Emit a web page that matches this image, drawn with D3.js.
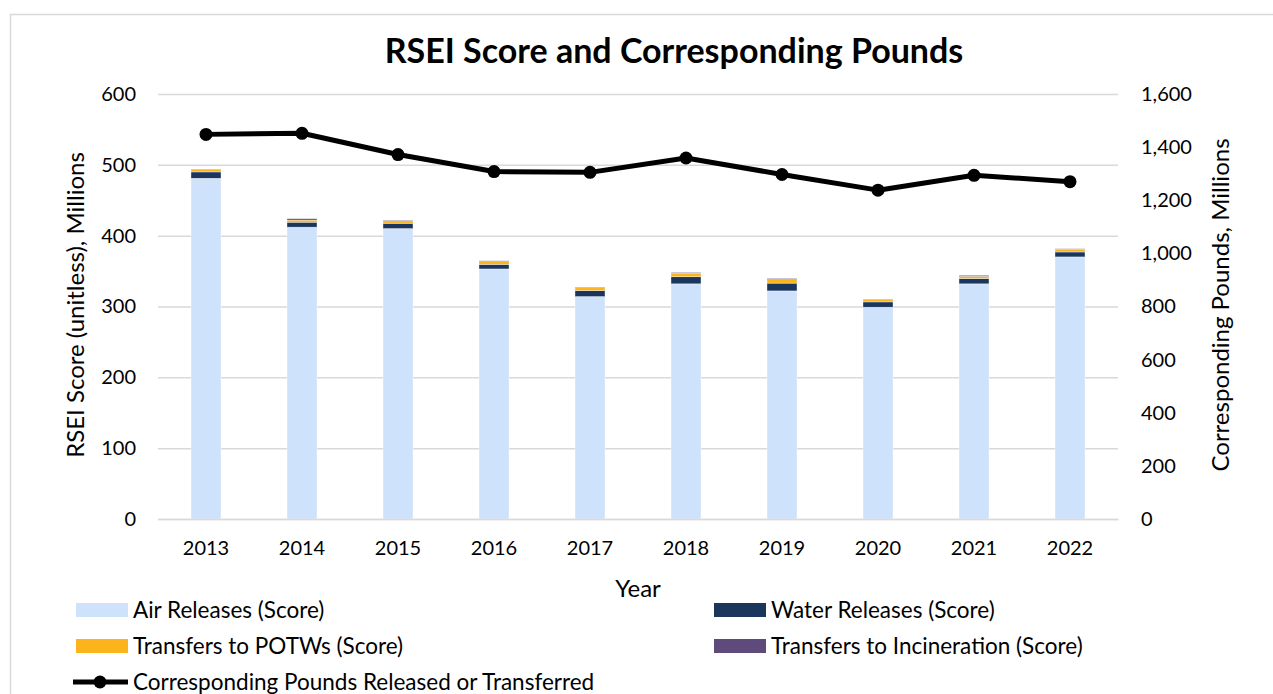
<!DOCTYPE html>
<html>
<head>
<meta charset="utf-8">
<script src="https://cdn.jsdelivr.net/npm/d3@7"></script>
<style>
body{margin:0;background:#fff;}
text{font-family:Lato,"Open Sans",sans-serif;fill:#000;}
</style>
</head>
<body>
<div id="chart"></div>
<script>
var years = ["2013","2014","2015","2016","2017","2018","2019","2020","2021","2022"];
var air_score = [481, 412, 410, 353, 314, 332, 322, 299, 332, 370];
var water_score = [9, 7, 7.5, 6.5, 8.5, 10, 11, 7.5, 7.5, 7];
var potw_score = [3.5, 3, 3.5, 4, 4, 5, 5, 3.5, 3, 4];
var incin_score = [0.5, 2, 1, 1, 1, 1, 1.5, 0.5, 1.5, 0.5];
var pounds = [1448, 1452, 1372, 1308, 1305, 1359, 1297, 1238, 1294, 1270];
var left_ticks = [0,100,200,300,400,500,600];
var right_ticks = [0,200,400,600,800,1000,1200,1400,1600];

var series_names = ["Air Releases (Score)","Water Releases (Score)","Transfers to POTWs (Score)","Transfers to Incineration (Score)"];
var series_colors = ["#cfe2fb","#1b365d","#fbb41c","#5f4b7b"];

var width = 1273, height = 694;
var plot_left = 158, plot_right = 1118, plot_top = 94, plot_bottom = 519;

var svg = d3.select("#chart").append("svg")
			.attr("width",width)
			.attr("height",height);

// chart border
svg.append("rect")
   .attr("x",10.5).attr("y",14.5)
   .attr("width",1300).attr("height",720)
   .attr("fill","#fff")
   .attr("stroke","#d9d9d9")
   .attr("stroke-width",1.5);

var table = years.map(function(y,i){
	return {year:y, air:air_score[i], water:water_score[i], potw:potw_score[i], incin:incin_score[i], lbs:pounds[i]};
});
var keys = ["air","water","potw","incin"];
var stacked = d3.stack().keys(keys)(table);

var x = d3.scaleBand().domain(years).range([plot_left,plot_right])
		  .paddingInner(0.6875).paddingOuter(0.34375);
var y = d3.scaleLinear().domain([0,600]).range([plot_bottom,plot_top]);
var y2 = d3.scaleLinear().domain([0,1600]).range([plot_bottom,plot_top]);

// gridlines
var grid = svg.append("g")
			  .attr("transform","translate(" + plot_left + ",0)")
			  .call(d3.axisLeft(y).tickValues(left_ticks).tickSize(-(plot_right-plot_left)).tickFormat(""));
grid.select(".domain").remove();
grid.selectAll("line").attr("stroke","#d9d9d9").attr("stroke-width",1.5);

// left axis labels
var ax_left = svg.append("g")
				 .attr("transform","translate(" + plot_left + ",0)")
				 .call(d3.axisLeft(y).tickValues(left_ticks).tickSize(0).tickPadding(22));
ax_left.select(".domain").remove();
ax_left.selectAll("text").style("font-size","20px").style("font-family","Lato");

// right axis labels
var ax_right = svg.append("g")
				  .attr("transform","translate(" + plot_right + ",0)")
				  .call(d3.axisRight(y2).tickValues(right_ticks).tickSize(0).tickPadding(23).tickFormat(d3.format(",")));
ax_right.select(".domain").remove();
ax_right.selectAll("text").style("font-size","20px").style("font-family","Lato");

// bars
svg.append("g").selectAll("g")
   .data(stacked)
   .enter()
   .append("g")
   .attr("fill",function(d,i){ return series_colors[i]; })
   .selectAll("rect")
   .data(function(d){ return d; })
   .enter()
   .append("rect")
   .attr("x",function(d){ return x(d.data.year); })
   .attr("width",x.bandwidth())
   .attr("y",function(d){ return y(d[1]); })
   .attr("height",function(d){ return y(d[0]) - y(d[1]); })
   .attr("stroke","#fff")
   .attr("stroke-width",0.6)
   .attr("stroke-opacity",0.6);

// bottom axis
var ax_bottom = svg.append("g")
				   .attr("transform","translate(0," + plot_bottom + ")")
				   .call(d3.axisBottom(x).tickSize(0).tickPadding(22));
ax_bottom.select(".domain").attr("stroke","#d9d9d9").attr("stroke-width",1.5);
ax_bottom.selectAll("text").style("font-size","20px").style("font-family","Lato");

// pounds line
var line = d3.line()
			 .x(function(d){ return x(d.year) + x.bandwidth()/2; })
			 .y(function(d){ return y2(d.lbs); });

svg.append("path")
   .datum(table)
   .attr("d",line)
   .attr("fill","none")
   .attr("stroke","#000")
   .attr("stroke-width",5)
   .attr("stroke-linejoin","round");

svg.append("g").selectAll("circle")
   .data(table)
   .enter()
   .append("circle")
   .attr("cx",function(d){ return x(d.year) + x.bandwidth()/2; })
   .attr("cy",function(d){ return y2(d.lbs); })
   .attr("r",6.5)
   .attr("fill","#000");

// titles
svg.append("text")
   .attr("x",674).attr("y",63)
   .attr("text-anchor","middle")
   .style("font-size","34px").style("font-weight","bold")
   .text("RSEI Score and Corresponding Pounds");

svg.append("text")
   .attr("x",638).attr("y",597)
   .attr("text-anchor","middle")
   .style("font-size","24px")
   .text("Year");

svg.append("text")
   .attr("transform","translate(84,305) rotate(-90)")
   .attr("text-anchor","middle")
   .style("font-size","24px")
   .text("RSEI Score (unitless), Millions");

svg.append("text")
   .attr("transform","translate(1229,305) rotate(-90)")
   .attr("text-anchor","middle")
   .style("font-size","24px")
   .text("Corresponding Pounds, Millions");

// legend
var legend_pos = [[76,610],[714,610],[76,646],[714,646]];
var legend = svg.append("g");
series_names.forEach(function(name,i){
	legend.append("rect")
		  .attr("x",legend_pos[i][0]).attr("y",legend_pos[i][1]-7)
		  .attr("width",52).attr("height",14)
		  .attr("fill",series_colors[i]);
	legend.append("text")
		  .attr("x",legend_pos[i][0]+57).attr("y",legend_pos[i][1]+8)
		  .style("font-size","22.5px")
		  .text(name);
});
legend.append("line")
	  .attr("x1",73).attr("x2",128).attr("y1",682).attr("y2",682)
	  .attr("stroke","#000").attr("stroke-width",5);
legend.append("circle")
	  .attr("cx",100).attr("cy",682).attr("r",6.5).attr("fill","#000");
legend.append("text")
	  .attr("x",133).attr("y",690)
	  .style("font-size","22.5px")
	  .text("Corresponding Pounds Released or Transferred");
</script>
</body>
</html>
